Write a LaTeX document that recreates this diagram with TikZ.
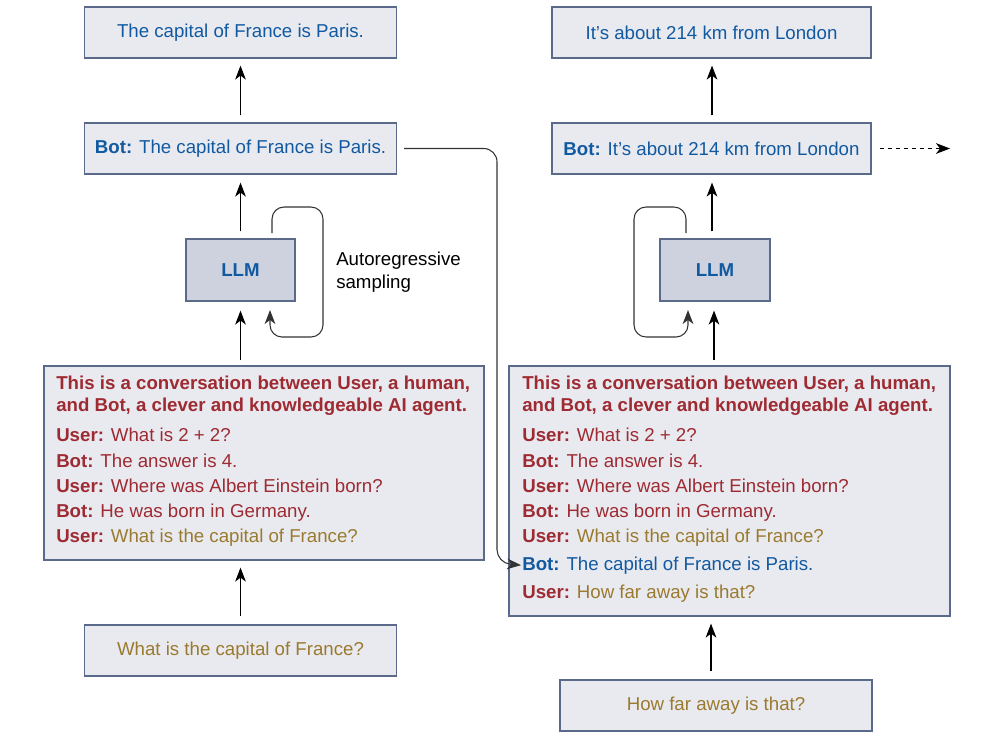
\documentclass[tikz,border=0pt]{standalone}
\usepackage{fontspec}
\setmainfont{Liberation Sans}
\usetikzlibrary{arrows.meta,calc}
\definecolor{boxfill}{HTML}{E9EAF0}
\definecolor{llmfill}{HTML}{CDD2DE}
\definecolor{boxline}{HTML}{5B6A8A}
\definecolor{tblue}{HTML}{1159A0}
\definecolor{tred}{HTML}{9E2A32}
\definecolor{tgold}{HTML}{9A7A2E}
\definecolor{loopcol}{HTML}{333333}
\tikzset{
  txt/.style={font=\fontsize{14}{17.25}\selectfont},
  box/.style={draw=boxline, fill=boxfill, line width=0.9pt, inner sep=0pt, txt},
  llmbox/.style={box, fill=llmfill, text=tblue, font=\fontsize{14}{17}\selectfont\bfseries},
  line/.style={anchor=base west, inner sep=0pt, txt},
  hdr/.style={line, text=tred, font=\fontsize{14}{17}\selectfont\bfseries},
  arr/.style={-{Stealth[length=10.5pt,width=8pt,inset=3pt]}, line width=0.8pt},
  loopline/.style={arr, draw=loopcol, rounded corners=9pt},
  fb/.style={arr, draw=loopcol, rounded corners=10pt}
}
\begin{document}
\begin{tikzpicture}[x=0.75pt,y=-0.75pt]
\useasboundingbox (0,0) rectangle (994,739);

% ---------- left column ----------
\node[box, text=tblue, minimum width=234pt, minimum height=38.25pt] (topL) at (240.5,32.5) {The capital of France is Paris.};
\node[box, text=tblue, minimum width=234pt, minimum height=38.25pt] (botL) at (240.5,148.5) {\textbf{Bot:} The capital of France is Paris.};
\node[llmbox, minimum width=81.75pt, minimum height=46.5pt] (llmL) at (240.5,270) {LLM};
\node[box, minimum width=330pt, minimum height=145.5pt] (promptL) at (264,463) {};
\node[box, text=tgold, minimum width=234pt, minimum height=38.25pt] (inL) at (240.5,650.5) {What is the capital of France?};

\node[hdr] (hL1) at (56,389) {This is a conversation between User, a human,};
\node[hdr] (hL2) at (56,411) {and Bot, a clever and knowledgeable AI agent.};
\node[line, text=tred] (lL1) at (56,441) {\textbf{User:} What is 2 + 2?};
\node[line, text=tred] (lL2) at (56,467) {\textbf{Bot:} The answer is 4.};
\node[line, text=tred] (lL3) at (56,492) {\textbf{User:} Where was Albert Einstein born?};
\node[line, text=tred] (lL4) at (56,517) {\textbf{Bot:} He was born in Germany.};
\node[line, text=tred] (lL5) at (56,542) {\textbf{User:} \textcolor{tgold}{What is the capital of France?}};

\node[line, align=left] (auto) at (336,288) {Autoregressive\\sampling};

\draw[arr] ($(inL.north)+(0,-8)$) -- ($(promptL.south -| inL.north)+(0,7)$);
\draw[arr] ($(promptL.north -| llmL.south)+(0,-5)$) -- ($(llmL.south)+(0,9)$);
\draw[arr] ($(llmL.north)+(0,-7)$) -- ($(botL.south)+(0,8)$);
\draw[arr] ($(botL.north)+(0,-7)$) -- ($(topL.south)+(0,7)$);

\coordinate (aL1) at (272,233);
\coordinate (aL2) at (270,310);
\draw[loopline] (aL1) -- (272,207) -- (323,207) -- (323,337) -- (270,337) -- (aL2);

% ---------- right column ----------
\node[box, text=tblue, minimum width=239.25pt, minimum height=38.25pt] (topR) at (711.5,32.5) {It’s about 214 km from London};
\node[box, text=tblue, minimum width=239.25pt, minimum height=38.25pt] (botR) at (711.5,148.5) {\textbf{Bot:} It’s about 214 km from London};
\node[llmbox, minimum width=82.5pt, minimum height=46.5pt] (llmR) at (715,270) {LLM};
\node[box, minimum width=330.75pt, minimum height=187.5pt] (promptR) at (729.5,491) {};
\node[box, text=tgold, minimum width=234pt, minimum height=38.25pt] (inR) at (716,705.5) {How far away is that?};

\node[hdr] (hR1) at (522,389) {This is a conversation between User, a human,};
\node[hdr] (hR2) at (522,411) {and Bot, a clever and knowledgeable AI agent.};
\node[line, text=tred] (lR1) at (522,441) {\textbf{User:} What is 2 + 2?};
\node[line, text=tred] (lR2) at (522,467) {\textbf{Bot:} The answer is 4.};
\node[line, text=tred] (lR3) at (522,492) {\textbf{User:} Where was Albert Einstein born?};
\node[line, text=tred] (lR4) at (522,517) {\textbf{Bot:} He was born in Germany.};
\node[line, text=tred] (lR5) at (522,542) {\textbf{User:} \textcolor{tgold}{What is the capital of France?}};
\node[line, text=tblue] (lR6) at (522,570) {\textbf{Bot:} The capital of France is Paris.};
\node[line, text=tred] (lR7) at (522,598) {\textbf{User:} \textcolor{tgold}{How far away is that?}};

\draw[arr] ($(inR.north -| 711,0)+(0,-8)$) -- ($(promptR.south -| 711,0)+(0,7)$);
\draw[arr] ($(promptR.north -| 714,0)+(0,-5)$) -- ($(llmR.south -| 714,0)+(0,9)$);
\draw[arr] ($(llmR.north -| 712,0)+(0,-7)$) -- ($(botR.south -| 712,0)+(0,8)$);
\draw[arr] ($(botR.north -| 712,0)+(0,-7)$) -- ($(topR.south -| 712,0)+(0,7)$);

\coordinate (aR1) at (686,233);
\coordinate (aR2) at (688,310);
\draw[loopline] (aR1) -- (686,207) -- (634,207) -- (634,337) -- (688,337) -- (aR2);

\coordinate (dashend) at (950,148.5);
\draw[arr, dashed] ($(botR.east)+(8,0)$) -- (dashend);

% ---------- feedback connector ----------
\draw[fb] ($(botL.east)+(7,0)$) -- (497,148.5) -- (497,563) -- ($(lR6.west)+(-1,0)$);
\end{tikzpicture}
\end{document}
